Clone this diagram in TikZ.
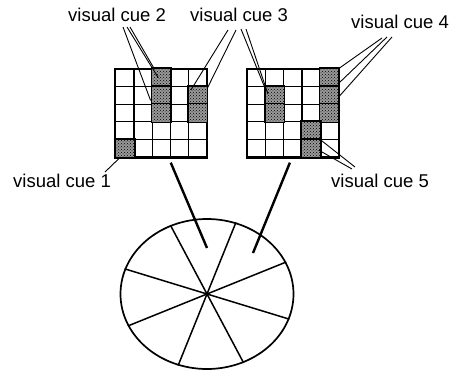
\documentclass[tikz,border=0pt]{standalone}
\usepackage{fontspec}
\setmainfont{Liberation Sans}
\usetikzlibrary{shapes.geometric, patterns, calc}

\begin{document}
\begin{tikzpicture}[
    x=1pt, y=-1pt,
    cell/.style={rectangle, draw, line width=1.3pt, minimum width=18.2pt,
                 minimum height=17.6pt, inner sep=0pt},
    cuecell/.style={fill=black!40, postaction={pattern=crosshatch dots, pattern color=black},
                    line width=1.8pt},
    frame/.style={line width=1.7pt},
    cue/.style={font=\fontsize{18.5}{20}\selectfont, inner sep=0pt, anchor=base},
    leader/.style={line width=0.9pt},
    link/.style={line width=2.4pt},
]
\useasboundingbox (0,0) rectangle (451,370);

% ---------- the two 5x5 grids ----------
\foreach \i in {0,...,4}
  \foreach \j in {0,...,4} {
    \node[cell] (L-\i-\j) at ({115.8+18.2*\i+9.1},{69+17.6*\j+8.8}) {};
    \node[cell] (R-\i-\j) at ({247.4+18.2*\i+9.1},{69+17.6*\j+8.8}) {};
  }

% shaded cells
\foreach \i/\j in {2/0, 2/1, 2/2, 4/1, 4/2, 0/4}
  \draw[cuecell] (L-\i-\j.south west) rectangle (L-\i-\j.north east);
\foreach \i/\j in {4/0, 4/1, 4/2, 1/1, 1/2, 3/3, 3/4}
  \draw[cuecell] (R-\i-\j.south west) rectangle (R-\i-\j.north east);

\draw[frame] (L-0-0.north west) rectangle (L-4-4.south east);
\draw[frame] (R-0-0.north west) rectangle (R-4-4.south east);

% ---------- labels ----------
\node[cue] (cue1) at (62,187)  {visual cue 1};
\node[cue] (cue2) at (117,21)  {visual cue 2};
\node[cue] (cue3) at (239,21)  {visual cue 3};
\node[cue] (cue4) at (400,28)  {visual cue 4};
\node[cue] (cue5) at (380,187) {visual cue 5};

% ---------- leader lines ----------
\draw[leader] ($(cue1.base)+(43,-15)$) -- ($(L-0-4.south)+(-5,0)$);

\draw[leader] ($(cue2.base)+(6,6)$)  -- ($(L-2-1.west)+(-1,5)$);
\draw[leader] ($(cue2.base)+(10,6)$) -- ($(L-2-0.center)+(-3,0)$);
\draw[leader] ($(cue2.base)+(13,6)$) -- ($(L-2-0.north west)+(3,1)$);

\draw[leader] ($(cue3.base)+(-11,9)$) -- ($(L-4-1.north west)+(3,4)$);
\draw[leader] ($(cue3.base)+(-3,9)$)  -- ($(L-4-1.north east)+(0,2)$);
\draw[leader] ($(cue3.base)+(2,8)$)   -- ($(R-1-1.north west)+(0,2)$);
\draw[leader] ($(cue3.base)+(7,8)$)   -- ($(R-1-1.north west)+(3,8)$);

\draw[leader] ($(cue4.base)+(-18,10)$) -- ($(R-4-0.north east)+(0,0)$);
\draw[leader] ($(cue4.base)+(-13,9)$)  -- ($(R-4-1.north east)+(0,-3)$);
\draw[leader] ($(cue4.base)+(-8,9)$)   -- ($(R-4-2.north east)+(0,-7)$);

\draw[leader] ($(cue5.base)+(-25,-20)$) -- (R-3-3.south east);
\draw[leader] ($(cue5.base)+(-28,-18)$) -- ($(R-3-4.east)+(-2,2)$);

% ---------- the wheel ----------
\node[ellipse, draw, line width=1.7pt, minimum width=173pt, minimum height=150pt,
      inner sep=0pt] (wheel) at (207,294) {};
\foreach \a in {118, 68, 22, -17}
  \draw[line width=1.5pt] (wheel.\a) -- (wheel.\a+180);

% ---------- grids to wheel ----------
\coordinate (lefthit)  at (207,248);
\coordinate (righthit) at (253,253);
\draw[link] ($(L-3-4.south west)+(1,5)$) -- (lefthit);
\draw[link] ($(R-2-4.south)+(-3,5)$) -- (righthit);

\end{tikzpicture}
\end{document}
